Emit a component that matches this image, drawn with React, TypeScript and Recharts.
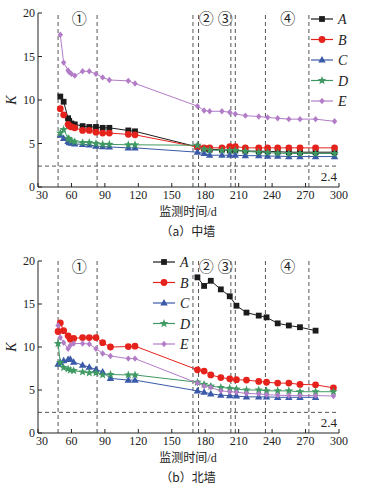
import React from 'react'
import { LineChart, Line, XAxis, YAxis, ReferenceLine, ReferenceDot } from 'recharts'

const SERIF = '"Liberation Serif", "DejaVu Serif", serif'
const CJK = '"Noto Sans CJK SC", "Noto Sans CJK JP", sans-serif'
const INK = '#222'

// shared axes / annotations
const X_TICKS = [30, 60, 90, 120, 150, 180, 210, 240, 270, 300]
const Y_TICKS = [0, 5, 10, 15, 20]
const STAGE_LINES = [48, 83, 169, 174, 203, 207, 234, 273]
const STAGE_LABELS = ['①', '②', '③', '④']
const STAGE_LABEL_DAYS = [67, 181, 198, 254]
const LIMIT_K = 2.4

// (a) 中墙
const MID_DAYS = [50, 53, 57, 58, 60, 63, 70, 76, 82, 88, 94, 111, 117, 173, 179, 184, 195, 202, 207, 216, 228, 236, 245, 255, 265, 279, 296]
const MID_A = [10.4, 9.8, 7.9, 7.6, 7.3, 7.2, 7.0, 6.9, 6.9, 6.8, 6.8, 6.5, 6.4, 4.6, 4.4, 4.3, 4.3, 4.2, 4.2, 4.15, 4.1, 4.1, 4.05, 4.0, 4.0, 4.0, 4.0]
const MID_B = [9.0, 8.3, 7.2, 7.0, 6.9, 6.8, 6.5, 6.5, 6.3, 6.2, 6.2, 6.05, 6.0, 4.6, 4.5, 4.5, 4.5, 4.65, 4.65, 4.5, 4.5, 4.5, 4.5, 4.5, 4.5, 4.5, 4.5]
const MID_C = [5.95, 5.6, 5.25, 5.1, 5.05, 4.95, 4.9, 4.85, 4.7, 4.65, 4.6, 4.5, 4.5, 4.0, 3.85, 3.65, 3.65, 3.65, 3.65, 3.6, 3.6, 3.55, 3.55, 3.5, 3.5, 3.5, 3.5]
const MID_D = [6.2, 6.6, 5.6, 5.5, 5.3, 5.2, 5.1, 5.1, 5.0, 4.9, 4.9, 4.85, 4.85, 4.8, 4.35, 4.25, 4.2, 4.2, 4.2, 4.1, 4.0, 3.95, 3.9, 3.85, 3.85, 3.85, 3.85]
const MID_E = [17.5, 14.3, 13.4, 13.2, 13.0, 12.8, 13.3, 13.3, 13.0, 12.6, 12.3, 12.2, 11.9, 9.3, 8.8, 8.7, 8.7, 8.6, 8.4, 8.2, 8.1, 8.0, 7.9, 7.8, 7.8, 7.8, 7.55]

// (b) 北墙
const NORTH_DAYS = [48, 50, 53, 57, 59, 62, 70, 76, 82, 88, 95, 111, 117, 173, 179, 185, 194, 202, 208, 217, 228, 235, 245, 255, 265, 279, 295]
const NORTH_A = [null, null, null, null, null, null, null, null, null, null, null, null, null, 18.1, 17.1, 17.7, 16.7, 15.9, 14.8, 14.0, 13.65, 13.45, 12.75, 12.5, 12.3, 11.9, null]
const NORTH_B = [11.8, 12.8, 11.9, 11.3, 10.9, 11.0, 11.1, 11.1, 11.1, 10.5, 10.0, 10.05, 10.1, 7.35, 7.2, 6.75, 6.45, 6.3, 6.2, 6.15, 6.0, 5.9, 5.8, 5.8, 5.65, 5.6, 5.25]
const NORTH_C = [8.0, 8.2, 8.4, 8.55, 8.6, 8.25, 7.9, 7.65, 7.4, 7.1, 6.35, 6.15, 6.15, 4.9, 4.75, 4.55, 4.4, 4.35, 4.3, 4.2, 4.2, 4.2, 4.15, 4.15, 4.15, 4.15, null]
const NORTH_D = [10.4, 8.2, 7.6, 7.45, 7.3, 7.25, 7.1, 7.0, 7.0, 6.75, 6.8, 6.75, 6.75, 5.9, 5.65, 5.45, 5.3, 5.2, 5.1, 5.0, 5.0, 4.9, 4.9, 4.9, 4.8, 4.8, 4.8]
const NORTH_E = [12.5, 11.1, 10.5, 9.8, 10.2, 10.4, 10.4, 10.35, 9.8, 9.25, 8.95, 8.65, 8.65, 5.8, 5.45, 5.3, 4.9, 4.8, 4.75, 4.6, 4.55, 4.45, 4.4, 4.35, 4.35, 4.35, 4.3]

const SERIES = [
  { key: 'A', color: '#1c1c1c', shape: 'square' },
  { key: 'B', color: '#e5221c', shape: 'circle' },
  { key: 'C', color: '#3a59a8', shape: 'triangle' },
  { key: 'D', color: '#3f9963', shape: 'star' },
  { key: 'E', color: '#b27cc7', shape: 'diamond' },
]

function starPath(cx: number, cy: number, ro: number, ri: number) {
  let d = ''
  for (let i = 0; i < 10; i++) {
    const a = ((-90 + i * 36) * Math.PI) / 180
    const r = i % 2 === 0 ? ro : ri
    d += (i === 0 ? 'M' : 'L') + (cx + r * Math.cos(a)).toFixed(2) + ',' + (cy + r * Math.sin(a)).toFixed(2)
  }
  return d + 'Z'
}

function Marker({ shape, cx, cy, color }: { shape: string; cx: number; cy: number; color: string }) {
  switch (shape) {
    case 'square':
      return <rect x={cx - 2.9} y={cy - 2.9} width={5.8} height={5.8} fill={color} />
    case 'circle':
      return <circle cx={cx} cy={cy} r={3.4} fill={color} />
    case 'triangle':
      return <path d={`M${cx},${cy - 3.9}L${cx + 3.7},${cy + 2.6}L${cx - 3.7},${cy + 2.6}Z`} fill={color} />
    case 'star':
      return <path d={starPath(cx, cy, 4.5, 1.9)} fill={color} />
    default:
      return <path d={`M${cx},${cy - 3.2}L${cx + 2.7},${cy}L${cx},${cy + 3.2}L${cx - 2.7},${cy}Z`} fill={color} />
  }
}

const tickText = { fontFamily: SERIF, fontSize: 12 }

function XTick(props: any) {
  const { x, y, payload, index } = props
  // the first label sits a little right of its tick, clear of the y-axis "0"
  const dx = index === 0 ? 4 : 0
  return (
    <g>
      <line x1={x} y1={y} x2={x} y2={y - 4} stroke={INK} />
      <text x={x + dx} y={y + 12} textAnchor="middle" style={tickText} fill={INK}>
        {payload.value}
      </text>
    </g>
  )
}

function YTick(props: any) {
  const { x, y, payload } = props
  return (
    <g>
      <line x1={x} y1={y} x2={x + 4} y2={y} stroke={INK} />
      <text x={x - 3} y={y + 4} textAnchor="end" style={tickText} fill={INK}>
        {payload.value}
      </text>
    </g>
  )
}

function Legend({ left, top }: { left: number; top: number }) {
  return (
    <svg width={50} height={108} style={{ position: 'absolute', left, top }}>
      {SERIES.map((s, i) => {
        const y = 10 + i * 20.5
        return (
          <g key={s.key}>
            <line x1={0} y1={y} x2={22} y2={y} stroke={s.color} strokeWidth={1.2} />
            <Marker shape={s.shape} cx={11} cy={y} color={s.color} />
            <text x={27} y={y + 5} style={{ fontFamily: SERIF, fontSize: 14, fontStyle: 'italic' }} fill={INK}>
              {s.key}
            </text>
          </g>
        )
      })}
    </svg>
  )
}

type PanelProps = {
  days: number[]
  values: (number | null)[][]
  top: number
  height: number
  marginBottom: number
  legend: { left: number; top: number }
  caption: string
}

function Panel({ days, values, top, height, marginBottom, legend, caption }: PanelProps) {
  const data = days.map((d, i) => {
    const row: any = { day: d }
    SERIES.forEach((s, j) => {
      row[s.key] = values[j][i]
    })
    return row
  })
  const plotBottom = height - marginBottom

  return (
    <div style={{ position: 'absolute', left: 0, top, width: 366, height: height + 50 }}>
      <LineChart width={366} height={height} data={data} margin={{ top: 13, right: 27, left: 8, bottom: marginBottom - 20 }}>
        <XAxis
          type="number"
          dataKey="day"
          domain={[30, 300]}
          ticks={X_TICKS}
          interval={0}
          height={20}
          tickSize={0}
          tickMargin={0}
          tickLine={false}
          axisLine={{ stroke: INK }}
          tick={<XTick />}
        />
        <YAxis
          type="number"
          domain={[0, 20]}
          ticks={Y_TICKS}
          interval={0}
          width={30}
          tickSize={0}
          tickMargin={0}
          tickLine={false}
          axisLine={{ stroke: INK }}
          tick={<YTick />}
        />
        {STAGE_LINES.map((d) => (
          <ReferenceLine key={d} x={d} stroke="#555" strokeDasharray="4 3" />
        ))}
        <ReferenceLine
          y={LIMIT_K}
          stroke="#555"
          strokeDasharray="4 3"
          label={(p: any) => (
            <text
              x={p.viewBox.x + p.viewBox.width - 2}
              y={p.viewBox.y + 15}
              textAnchor="end"
              style={{ fontFamily: SERIF, fontSize: 13 }}
              fill={INK}
            >
              {LIMIT_K}
            </text>
          )}
        />
        {STAGE_LABELS.map((t, i) => (
          <ReferenceDot
            key={t}
            x={STAGE_LABEL_DAYS[i]}
            y={19.3}
            r={0}
            fill="none"
            stroke="none"
            ifOverflow="visible"
            label={{ value: t, position: 'center', fontSize: 15, fontFamily: CJK, fill: INK }}
          />
        ))}
        {SERIES.map((s) => (
          <Line
            key={s.key}
            dataKey={s.key}
            type="linear"
            stroke={s.color}
            strokeWidth={1}
            isAnimationActive={false}
            connectNulls={false}
            dot={(p: any) =>
              p.value == null || p.cy == null ? (
                <g key={`${s.key}-${p.index}`} />
              ) : (
                <Marker key={`${s.key}-${p.index}`} shape={s.shape} cx={p.cx} cy={p.cy} color={s.color} />
              )
            }
            activeDot={false}
          />
        ))}
      </LineChart>

      <Legend left={legend.left} top={legend.top} />

      <div
        style={{
          position: 'absolute',
          left: 12,
          top: (13 + plotBottom) / 2,
          transform: 'translate(-50%, -50%) rotate(-90deg)',
          fontFamily: SERIF,
          fontStyle: 'italic',
          fontSize: 14,
          color: INK,
          lineHeight: 1,
        }}
      >
        K
      </div>

      <div
        style={{
          position: 'absolute',
          left: 0,
          width: 376,
          top: plotBottom + 17,
          textAlign: 'center',
          fontSize: 12,
          color: INK,
          lineHeight: '14px',
        }}
      >
        <span style={{ fontFamily: CJK }}>监测时间</span>
        <span style={{ fontFamily: SERIF }}>/d</span>
      </div>

      <div
        style={{
          position: 'absolute',
          left: 0,
          width: 376,
          top: plotBottom + 37,
          textAlign: 'center',
          fontSize: 12,
          color: INK,
          lineHeight: '14px',
          fontFamily: CJK,
        }}
      >
        {caption}
      </div>
    </div>
  )
}

export default function App() {
  return (
    <div
      style={{
        position: 'absolute',
        left: 0,
        top: 0,
        width: 366,
        height: 489,
        background: '#fff',
        overflow: 'hidden',
        fontFamily: SERIF,
      }}
    >
      <Panel
        days={MID_DAYS}
        values={[MID_A, MID_B, MID_C, MID_D, MID_E]}
        top={0}
        height={240}
        marginBottom={53}
        legend={{ left: 311, top: 9 }}
        caption="（a）中墙"
      />
      <Panel
        days={NORTH_DAYS}
        values={[NORTH_A, NORTH_B, NORTH_C, NORTH_D, NORTH_E]}
        top={248}
        height={240}
        marginBottom={55}
        legend={{ left: 153, top: 4 }}
        caption="（b）北墙"
      />
    </div>
  )
}
